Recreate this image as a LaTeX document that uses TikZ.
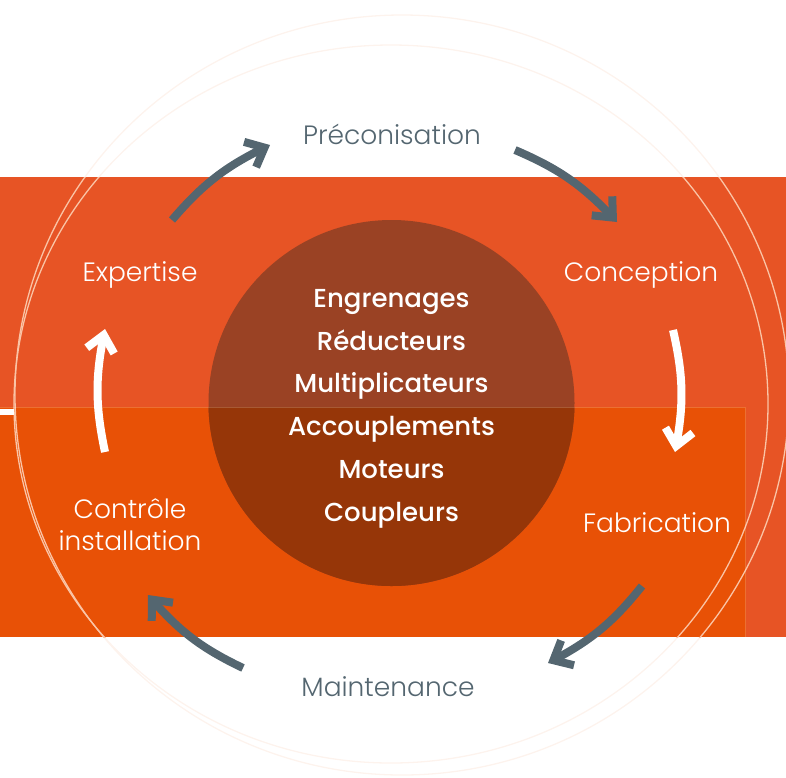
\documentclass[tikz,border=0pt]{standalone}
\usepackage{fontspec}
\setmainfont{Poppins}
\newfontfamily\lightf{Poppins Light}
\newfontfamily\medf{Poppins Medium}
\usetikzlibrary{arrows.meta,bending}
\definecolor{bandup}{RGB}{231,84,37}
\definecolor{bandlow}{RGB}{232,81,6}
\definecolor{cirup}{RGB}{154,66,36}
\definecolor{cirlow}{RGB}{150,54,8}
\definecolor{slate}{RGB}{84,102,112}
\definecolor{ringw}{RGB}{253,243,237}
\definecolor{ringo}{RGB}{250,196,166}
\begin{document}
\begin{tikzpicture}[x=1pt,y=-1pt,
  cyc/.style={line width=8pt, bend left=12,
    -{Straight Barb[length=16pt,width=28pt,line join=miter,line cap=butt]}},
  garrow/.style={cyc, draw=slate},
  warrow/.style={cyc, draw=white},
  outl/.style={font=\lightf\fontsize{26.5}{26.5}\selectfont, anchor=base, inner sep=0pt},
  outg/.style={outl, text=slate},
  outw/.style={outl, text=white},
  corelabel/.style={font=\medf\fontsize{26}{26}\selectfont, anchor=base, inner sep=0pt, text=white},
  ring/.style={line width=1.3pt}
]
\useasboundingbox (0,0) rectangle (786,777);
\clip (0,0) rectangle (786,777);
% bands
\fill[bandup] (0,177) rectangle (786,637);
\fill[bandlow] (0,407) rectangle (745.7,637);
% rings
\begin{scope}
  \clip (0,0) rectangle (786,177) (0,637) rectangle (786,777);
  \draw[ring, ringw] (402,395) ellipse [x radius=387, y radius=380];
  \draw[ring, ringw] (391,404) ellipse [x radius=377, y radius=359];
\end{scope}
\begin{scope}
  \clip (0,177) rectangle (786,637);
  \draw[ring, ringo] (402,395) ellipse [x radius=387, y radius=380];
  \draw[ring, ringo] (391,404) ellipse [x radius=377, y radius=359];
\end{scope}
% core circle
\node[circle, fill=cirup, minimum size=366pt, inner sep=0pt] (core) at (391.5,403) {};
\begin{scope}
  \clip (0,407) rectangle (786,777);
  \fill[cirlow] (core.center) circle [radius=183];
\end{scope}
\draw[white, opacity=0.18, line width=0.8pt] (0,407) -- (745.7,407) -- (745.7,637);
\fill[white] (0,409.3) rectangle (14,415);
% core labels
\node[corelabel] (c1) at (391.5,307) {Engrenages};
\node[corelabel] (c2) at (391.5,350) {Réducteurs};
\node[corelabel] (c3) at (391.5,392.5) {Multiplicateurs};
\node[corelabel] (c4) at (391.5,435) {Accouplements};
\node[corelabel] (c5) at (391.5,478) {Moteurs};
\node[corelabel] (c6) at (391.5,521) {Coupleurs};
% outer labels
\node[outg] (pre) at (392,144) {Préconisation};
\node[outw] (con) at (641,281) {Conception};
\node[outw] (fab) at (657,532) {Fabrication};
\node[outg] (mai) at (388,696) {Maintenance};
\node[outw] (ctl1) at (130,518) {Contrôle};
\node[outw] (ctl2) at (130,550) {installation};
\node[outw] (exp) at (140,281) {Expertise};
% arrow end points
\coordinate (a1s) at (172,220); \coordinate (a1e) at (270,145);
\coordinate (a2s) at (515,150); \coordinate (a2e) at (617,222);
\coordinate (a3s) at (673,330); \coordinate (a3e) at (675,452);
\coordinate (a4s) at (642,586); \coordinate (a4e) at (548,663);
\coordinate (a5s) at (243,668); \coordinate (a5e) at (148,595);
\coordinate (a6s) at (105,452); \coordinate (a6e) at (105,329);
\draw[garrow] (a1s) to (a1e);
\draw[garrow] (a2s) to (a2e);
\draw[warrow] (a3s) to (a3e);
\draw[garrow] (a4s) to (a4e);
\draw[garrow] (a5s) to (a5e);
\draw[warrow] (a6s) to (a6e);
\end{tikzpicture}
\end{document}
